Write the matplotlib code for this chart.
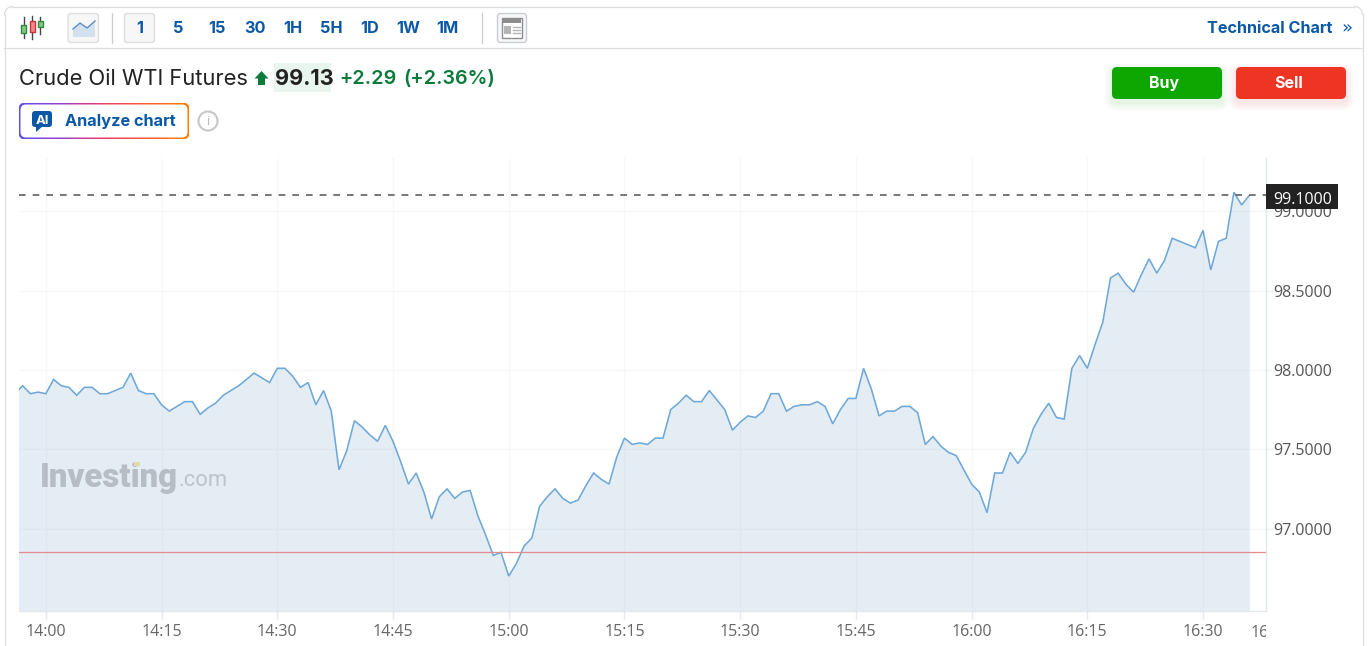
import numpy as np
import matplotlib
matplotlib.use("Agg")
import matplotlib.pyplot as plt
from matplotlib.patches import FancyBboxPatch, Rectangle, Polygon, Circle
from matplotlib.colors import LinearSegmentedColormap
from matplotlib.transforms import Bbox

# ---- data -------------------------------------------------------------
minutes_after_1400 = list(range(-4, 147)) + list(range(149, 157))
prices = [
    97.85, 97.90, 97.85, 97.86,
    97.85, 97.94, 97.90, 97.89, 97.84, 97.89, 97.89, 97.85, 97.85, 97.87,
    97.89, 97.98, 97.87, 97.85, 97.85, 97.78, 97.74, 97.77, 97.80, 97.80,
    97.72, 97.76, 97.79, 97.84, 97.87, 97.90, 97.94, 97.98, 97.95, 97.92,
    98.01, 98.01, 97.96, 97.89, 97.92, 97.78, 97.87, 97.74, 97.37, 97.49,
    97.68, 97.64, 97.59, 97.55, 97.65, 97.55, 97.42, 97.28, 97.35, 97.23,
    97.06, 97.20, 97.25, 97.19, 97.23, 97.24, 97.08, 96.96, 96.83, 96.85,
    96.70, 96.78, 96.89, 96.94, 97.14, 97.20, 97.25, 97.19, 97.16, 97.18,
    97.27, 97.35, 97.31, 97.28, 97.45, 97.57, 97.53, 97.54, 97.53, 97.57,
    97.57, 97.75, 97.79, 97.84, 97.80, 97.80, 97.87, 97.81, 97.75, 97.62,
    97.67, 97.71, 97.70, 97.74, 97.85, 97.85, 97.74, 97.77, 97.78, 97.78,
    97.80, 97.77, 97.66, 97.75, 97.82, 97.82, 98.01, 97.88, 97.71, 97.74,
    97.74, 97.77, 97.77, 97.73, 97.53, 97.58, 97.52, 97.48, 97.46, 97.37,
    97.28, 97.23, 97.10, 97.35, 97.35, 97.48, 97.41, 97.48, 97.63, 97.72,
    97.79, 97.70, 97.69, 98.01, 98.09, 98.01, 98.16, 98.30, 98.58, 98.61,
    98.54, 98.49, 98.60, 98.70, 98.61, 98.69, 98.83,
    98.77, 98.88, 98.63, 98.81, 98.83, 99.12, 99.04, 99.10,
]
x_tick_minutes = [0, 15, 30, 45, 60, 75, 90, 105, 120, 135, 150]
x_tick_labels = ["14:00", "14:15", "14:30", "14:45", "15:00", "15:15",
                 "15:30", "15:45", "16:00", "16:15", "16:30"]
y_ticks = [97.0, 97.5, 98.0, 98.5, 99.0]
current_level = 99.10
previous_close = 96.85
interval_labels = ["1", "5", "15", "30", "1H", "5H", "1D", "1W", "1M"]

W, H = 1372, 646
UI = "Inter"
AX = "Open Sans"
BLUE = "#0a58a6"
px = lambda p: p * 0.72

fig = plt.figure(figsize=(W / 100, H / 100), dpi=100, facecolor="white")

# ---- chart axes -------------------------------------------------------
L, R, T, B = 19, 1266, 158, 611
ax = fig.add_axes([L / W, 1 - B / H, (R - L) / W, (B - T) / H], zorder=2)
ax.set_xlim(-3.48, 158.16)
ax.set_ylim(96.48, 99.336)
ax.set_facecolor("none")
ax.set_axisbelow(True)
ax.grid(True, color="#f6f7f9", lw=1)
ax.fill_between(minutes_after_1400, prices, 96.48, color="#7fa8c9", alpha=0.2, lw=0, zorder=2)
ax.plot(minutes_after_1400, prices, color="#6ea8d8", lw=1.15, zorder=3, solid_joinstyle="miter")
ax.axhline(previous_close, color="#e28c8c", lw=0.9, zorder=4)
ax.axhline(current_level, color="#606060", lw=1.2, dashes=(4, 4.2), zorder=4)
ax.set_xticks(x_tick_minutes)
ax.set_xticklabels(x_tick_labels, fontfamily=AX, fontsize=px(16), color="#666666")
ax.set_yticks(y_ticks)
ax.set_yticklabels([f"{v:.4f}" for v in y_ticks], fontfamily=AX, fontsize=px(16), color="#555555")
ax.yaxis.tick_right()
ax.tick_params(axis="x", length=6, width=1, color="#e6e9ee", pad=3.5)
ax.tick_params(axis="y", length=5, width=1, color="#f2f4f7", pad=0.5)
for s in ("top", "left"):
    ax.spines[s].set_visible(False)
for s in ("right", "bottom"):
    ax.spines[s].set_color("#e3e6eb")
    ax.spines[s].set_linewidth(1)

# ---- overlay in pixel coordinates --------------------------------------
ov = fig.add_axes([0, 0, 1, 1], zorder=3)
ov.set_xlim(0, W)
ov.set_ylim(H, 0)
ov.axis("off")
ov.patch.set_alpha(0)


def rbox(x0, y0, x1, y1, r=4, fc="white", ec="none", lw=1, z=1, alpha=None):
    p = FancyBboxPatch((x0 + r, y0 + r), x1 - x0 - 2 * r, y1 - y0 - 2 * r,
                       boxstyle=f"round,pad={r},rounding_size={r}",
                       fc=fc, ec=ec, lw=lw, zorder=z, alpha=alpha, mutation_aspect=1)
    ov.add_patch(p)
    return p


def label(x, y, s, size, color="#222222", weight="normal", ha="left", family=UI, z=5, **kw):
    return ov.text(x, y, s, fontsize=px(size), color=color, fontweight=weight, ha=ha,
                   va="center_baseline", fontfamily=family, zorder=z, **kw)


# card frame
FRAME = "#dcdee2"
ov.plot([4.5, 4.5], [646, 14], color=FRAME, lw=0.9, zorder=1)
ov.plot([1362.5, 1362.5], [646, 14], color=FRAME, lw=0.9, zorder=1)
ov.plot([12, 1354], [6.5, 6.5], color=FRAME, lw=0.9, zorder=1)
a = np.linspace(0, np.pi / 2, 10)
ov.plot(12.5 - 8 * np.sin(a), 14.5 - 8 * np.cos(a), color=FRAME, lw=0.9, zorder=1)
ov.plot(1354.5 + 8 * np.sin(a), 14.5 - 8 * np.cos(a), color=FRAME, lw=0.9, zorder=1)
ov.plot([4, 1362], [47.8, 47.8], color=FRAME, lw=0.9, zorder=1)

# toolbar: candle icon
for cx, top, bot, y0, y1, col, fc in [
    (23.5, 17, 38, 25, 33, "#2e8b3a", "#7fc98a"),
    (32, 16, 39, 21, 32, "#c8343a", "#f08a8a"),
    (40, 17, 34, 21, 27, "#2e8b3a", "#7fc98a"),
]:
    ov.plot([cx, cx], [top, bot], color="#444444", lw=1, zorder=3)
    ov.add_patch(Rectangle((cx - 2.5, y0), 5, y1 - y0, fc=fc, ec=col, lw=1, zorder=4))

# toolbar: line-chart button
rbox(68, 13.5, 98.5, 42.5, r=3, fc="#f7f7f8", ec="#dcdee2", z=2)
ov.add_patch(Polygon([(73, 37), (73, 29), (80, 23), (87, 28), (95, 21), (95, 37)],
                     fc="#d3e0f0", ec="none", zorder=3))
ov.plot([73, 80, 87, 95], [29, 23, 28, 21], color="#5d8fc4", lw=1, zorder=4)

ov.plot([112, 112], [13, 43], color="#c9ccd1", lw=0.9, zorder=2)
ov.plot([482, 482], [13, 43], color="#c9ccd1", lw=0.9, zorder=2)
rbox(124.5, 13.5, 154.5, 42.5, r=3, fc="#f7f7f8", ec="#dcdee2", z=2)
for x, s in zip([139.5, 178, 216.5, 255, 293, 331.5, 370, 408.5, 447], interval_labels):
    label(x, 27, s, 16.3, color=BLUE, weight="bold", ha="center")

# toolbar: news icon
rbox(497.5, 13.5, 526.5, 42.5, r=3, fc="#f7f7f8", ec="#c9ccd1", z=2)
ov.add_patch(Rectangle((502, 18), 20, 20, fc="white", ec="#8d8d8d", lw=1, zorder=3))
ov.add_patch(Rectangle((503, 19), 18, 4, fc="#8d8d8d", zorder=4))
ov.add_patch(Rectangle((504, 26), 7, 8, fc="#b5b5b5", zorder=4))
for yy in (27, 30, 33):
    ov.plot([513, 520], [yy, yy], color="#b5b5b5", lw=1, zorder=4)

label(1207, 27, "Technical Chart", 16.2, color=BLUE, weight="bold")
label(1341, 26.5, "»", 18, color=BLUE, family="DejaVu Sans")

# title row
label(19, 77, "Crude Oil WTI Futures", 21.9, color="#222222")
ov.add_patch(Polygon([(261.5, 71), (268.5, 78.5), (265, 78.5), (265, 85), (258, 85), (258, 78.5), (254.5, 78.5)],
                     fc="#0b7a3b", ec="none", zorder=4))
ov.add_patch(Rectangle((273.5, 63), 57.5, 29, fc="#e9f5ef", ec="none", zorder=2))
label(274.5, 77, "99.13", 21.8, color="#222222", weight="bold")
label(339.5, 77, "+2.29", 19.8, color="#0b7a3b", weight="semibold")
label(403.5, 77, "(+2.36%)", 19.8, color="#0b7a3b", weight="semibold")

# buy / sell
for x0, x1, col, text in [(1112, 1222, "#0ea600", "Buy"), (1236, 1346, "#ee3524", "Sell")]:
    for g in range(8, 0, -1):
        rbox(x0 - g, 67 - g + 4, x1 + g, 99 + g + 4, r=5 + g, fc=col, z=1, alpha=0.012)
    rbox(x0, 67, x1, 99, r=5, fc=col, z=3)
    label((x0 + x1) / 2 - 2.5, 82, text, 16, color="white", weight="bold", ha="center")

# analyze chart button with gradient frame
grad = LinearSegmentedColormap.from_list("g", ["#5b4ff0", "#9a3fd0", "#f03a6a", "#ff5a30", "#ff8000"])
im = ov.imshow(np.linspace(0, 1, 256).reshape(1, -1), extent=(19, 189, 139, 103), cmap=grad,
               aspect="auto", zorder=2)
clip = rbox(18.5, 102.5, 189.5, 139.5, r=7, fc="none", z=1)
im.set_clip_path(clip)
ov.set_xlim(0, W)
ov.set_ylim(H, 0)
rbox(20.5, 104.5, 187.5, 137.5, r=5.5, fc="white", z=3)
rbox(32, 111, 52, 127, r=3, fc=BLUE, z=4)
ov.add_patch(Polygon([(36, 126), (36, 132), (43, 126)], fc=BLUE, ec="none", zorder=4))
label(42, 119, "AI", 13, color="white", weight="bold", ha="center")
label(65, 120, "Analyze chart", 16.3, color=BLUE, weight="bold")
ov.add_patch(Circle((208, 121), 9.5, fc="white", ec="#c6c6c6", lw=1.5, zorder=4))
label(208, 120.5, "i", 13, color="#bdbdbd", ha="center")

# watermark
label(40, 475, "Investing", 33, color="#b7bdc4", weight="black", family="Roboto", z=1)
label(178, 478, ".com", 22, color="#bcc3cb", family="Roboto", z=1)
ov.add_patch(Rectangle((134, 462), 6, 4, fc="#e6d9a8", ec="none", zorder=2))

# current price tag
ov.add_patch(Rectangle((1266, 184), 72, 25, fc="#222222", ec="none", zorder=6))
label(1273.5, 197.5, f"{current_level:.4f}", 16, color="white", family=AX, z=7)

# last, clipped time label
t = label(1251, 631, "16:39", 16, color="#666666", family=AX)
t.set_clip_box(Bbox([[0, 0], [1266, H]]))
t.set_clip_on(True)

fig.savefig("out.png", dpi=100, facecolor="white")
